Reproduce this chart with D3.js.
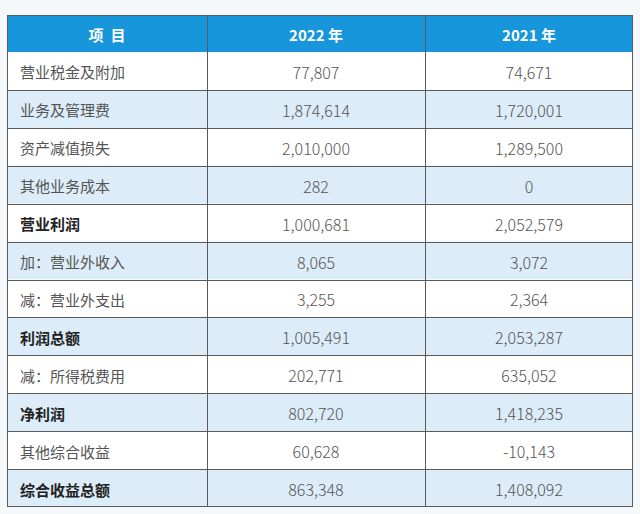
<html>
<head>
    <meta charset="utf-8">
    <title>利润表</title>
    <script src="https://cdn.jsdelivr.net/npm/d3@7"></script>
    <style>
        body { margin: 0; background: #f5f8fb; }
        svg { display: block; font-family: "Noto Sans CJK SC", "Noto Sans", sans-serif; }
    </style>
</head>
<body>
<div id="chart"></div>
<script>
    // table content
    const headers = ["项  目", "2022 年", "2021 年"];
    const items = ["营业税金及附加", "业务及管理费", "资产减值损失", "其他业务成本", "营业利润",
        "加：营业外收入", "减：营业外支出", "利润总额", "减：所得税费用", "净利润",
        "其他综合收益", "综合收益总额"];
    const values2022 = [77807, 1874614, 2010000, 282, 1000681, 8065, 3255, 1005491, 202771, 802720, 60628, 863348];
    const values2021 = [74671, 1720001, 1289500, 0, 2052579, 3072, 2364, 2053287, 635052, 1418235, -10143, 1408092];
    const boldItems = ["营业利润", "利润总额", "净利润", "综合收益总额"];

    const W = 640, H = 514;
    const tLeft = 7, tRight = 633, tTop = 15, headH = 37, tBottom = 507;
    const colEdges = [tLeft, 207, 425, tRight];

    const svg = d3.select("#chart").append("svg")
        .attr("width", W).attr("height", H);

    svg.append("rect").attr("width", W).attr("height", H).attr("fill", "#f5f8fb");

    let y = d3.scaleBand()
        .domain(d3.range(items.length))
        .range([tTop + headH, tBottom])
        .paddingInner(0).paddingOuter(0);

    // plain hyphen for negatives, like the source
    let fmt = d3.formatLocale({decimal: ".", thousands: ",", grouping: [3], currency: ["", ""], minus: "-"}).format(",");

    // header
    svg.append("rect")
        .attr("x", tLeft).attr("y", tTop)
        .attr("width", tRight - tLeft).attr("height", headH)
        .attr("fill", "#1896dc");

    svg.selectAll("text.head")
        .data(headers)
        .join("text")
            .attr("class", "head")
            .attr("x", (d, i) => (colEdges[i] + colEdges[i + 1]) / 2)
            .attr("y", tTop + headH / 2 + 1)
            .attr("text-anchor", "middle")
            .attr("dominant-baseline", "central")
            .attr("fill", "white")
            .style("font-size", "15px")
            .style("font-weight", "bold")
            .style("white-space", "pre")
            .text(d => d);

    // body rows
    let rows = svg.selectAll("g.row")
        .data(items)
        .join("g")
            .attr("class", "row")
            .attr("transform", (d, i) => `translate(0,${y(i)})`);

    rows.append("rect")
        .attr("x", tLeft).attr("width", tRight - tLeft)
        .attr("height", y.bandwidth())
        .attr("fill", (d, i) => i % 2 ? "#dcecf8" : "#ffffff");

    rows.append("text")
        .attr("x", 20)
        .attr("y", y.bandwidth() / 2 + 1)
        .attr("dominant-baseline", "central")
        .attr("fill", d => boldItems.includes(d) ? "#222" : "#555")
        .style("font-size", "15px")
        .style("font-weight", d => boldItems.includes(d) ? "bold" : "normal")
        .text(d => d);

    [values2022, values2021].forEach((vals, c) => {
        rows.append("text")
            .attr("x", (colEdges[c + 1] + colEdges[c + 2]) / 2)
            .attr("y", y.bandwidth() / 2 + 1)
            .attr("text-anchor", "middle")
            .attr("dominant-baseline", "central")
            .attr("fill", "#555")
            .style("font-size", "16px")
            .style("font-weight", 300)
            .text((d, i) => fmt(vals[i]));
    });

    // grid lines
    let lineColor = "#5a5a5a";
    svg.selectAll("line.h")
        .data(d3.range(1, items.length))
        .join("line")
            .attr("class", "h")
            .attr("x1", tLeft).attr("x2", tRight)
            .attr("y1", i => Math.round(y(i)) + 0.5)
            .attr("y2", i => Math.round(y(i)) + 0.5)
            .attr("stroke", lineColor).attr("stroke-width", 1);

    svg.selectAll("line.v")
        .data(colEdges.slice(1, 3))
        .join("line")
            .attr("class", "v")
            .attr("x1", d => d + 0.5).attr("x2", d => d + 0.5)
            .attr("y1", tTop).attr("y2", tBottom)
            .attr("stroke", lineColor).attr("stroke-width", 1);

    svg.append("rect")
        .attr("x", tLeft + 0.5).attr("y", tTop + 0.5)
        .attr("width", tRight - tLeft - 1).attr("height", tBottom - tTop - 1)
        .attr("fill", "none")
        .attr("stroke", lineColor).attr("stroke-width", 1);
</script>
</body>
</html>
